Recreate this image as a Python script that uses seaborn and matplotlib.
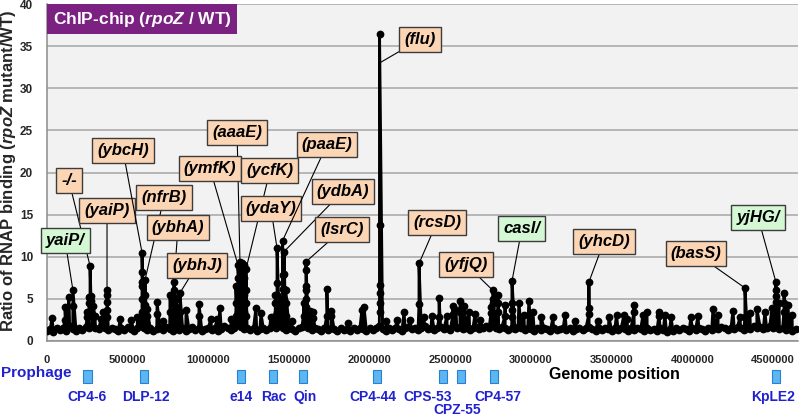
import numpy as np
import pandas as pd
import matplotlib
matplotlib.use("Agg")
import matplotlib.pyplot as plt
import seaborn as sns
from matplotlib.patches import Rectangle
from matplotlib.transforms import blended_transform_factory

# ---------------- data ----------------
genome_length = 4640000
# background probe ratios (evenly spaced probes along the genome)
baseline_ratio = [
    1.2, 1.4, 1.1, 1.6, 1.3, 1.5, 1.2, 1.8, 1.4, 1.2, 1.6, 1.3, 1.7, 1.5, 1.9, 1.6, 1.4, 1.8, 1.5, 1.3,
    1.6, 1.4, 1.2, 1.5, 1.3, 1.7, 1.4, 1.2, 1.5, 1.8, 1.6, 1.3, 1.5, 1.2, 1.4, 1.6, 1.3, 1.7, 1.4, 1.2,
    1.5, 1.3, 1.6, 1.2, 1.4, 1.7, 1.3, 1.5, 1.2, 1.4, 1.6, 1.3, 1.5, 1.2, 1.4, 1.8, 1.5, 1.3, 1.6, 1.9,
    1.7, 1.4, 1.6, 1.3, 1.5, 1.2, 1.4, 1.6, 1.3, 1.5, 1.8, 1.6, 1.9, 1.5, 1.3, 1.6, 1.4, 1.2, 1.5, 1.7,
    1.8, 1.5, 1.3, 1.6, 1.4, 1.2, 1.5, 1.3, 1.6, 1.4, 1.2, 1.5, 1.3, 1.4, 1.2, 1.5, 1.3, 1.6, 1.4, 1.2,
    1.5, 1.3, 1.6, 1.8, 1.4, 1.2, 1.5, 1.3, 1.6, 1.4, 1.2, 1.5, 1.7, 1.4, 1.6, 1.3, 1.5, 1.8, 1.4, 1.6,
    1.3, 1.5, 1.7, 1.4, 1.6, 1.3, 1.8, 1.5, 1.7, 1.4, 1.6, 1.3, 1.5, 1.7, 1.4, 1.6, 1.8, 1.5, 1.9, 1.6,
    1.4, 1.7, 1.5, 1.3, 1.6, 1.4, 1.7, 1.5, 1.3, 1.6, 1.4, 1.2, 1.5, 1.3, 1.6, 1.4, 1.2, 1.5, 1.3, 1.4,
    1.6, 1.3, 1.5, 1.2, 1.4, 1.6, 1.3, 1.5, 1.7, 1.4, 1.2, 1.5, 1.3, 1.6, 1.4, 1.2, 1.5, 1.3, 1.6, 1.4,
    1.2, 1.5, 1.3, 1.6, 1.4, 1.2, 1.5, 1.3, 1.4, 1.2, 1.5, 1.3, 1.1, 1.4, 1.2, 1.5, 1.3, 1.6, 1.4, 1.2,
    1.5, 1.3, 1.6, 1.4, 1.2, 1.5, 1.3, 1.6, 1.4, 1.7, 1.5, 1.3, 1.6, 1.4, 1.7, 1.5, 1.3, 1.6, 1.4, 1.8,
    1.5, 1.7, 1.4, 1.6, 1.8, 1.5, 1.7, 1.4, 1.6, 1.3, 1.5, 1.2, 1.4,
]

# enriched probes (position in kb, stacked probe ratios at that locus)
peak_pos_kb = [
    31, 112, 136, 161, 250, 260, 267, 275, 285, 298, 335, 350, 372, 455, 520, 560,
    589, 607, 620, 682, 720, 762, 787, 800, 824, 862, 942, 1016, 1055, 1072, 1140,
    1171, 1184, 1196, 1210, 1222, 1233, 1295, 1326, 1388, 1415, 1426, 1440, 1460,
    1469, 1480, 1518, 1590, 1605, 1630, 1649, 1735, 1760, 1866, 1952, 1965, 2061,
    2100, 2169, 2213, 2250, 2306, 2337, 2386, 2430, 2479, 2516, 2535, 2560, 2585,
    2616, 2653, 2684, 2752, 2764, 2795, 2839, 2882, 2925, 2956, 2987, 3012, 3062,
    3136, 3211, 3273, 3359, 3415, 3483, 3530, 3576, 3595, 3638, 3694, 3719, 3793,
    3830, 3868, 3991, 4035, 4128, 4159, 4252, 4295, 4326, 4357, 4400, 4450, 4494,
    4518, 4537, 4568, 4593, 4618,
]
peak_ratio = [
    [2.7], [2.5, 4.0], [5.2], [4.2, 6.0], [2.8, 3.5], [3.0, 4.5, 5.2], [3.6, 5.0, 8.9],
    [3.2, 4.8, 5.4], [2.8, 4.2], [3.0], [2.6], [3.4], [2.9, 3.7, 4.6, 5.5, 6.0], [2.6],
    [2.5], [2.8],
    [3.5, 5.0, 6.5, 7.0, 8.2, 10.5], [3.0, 4.3, 5.5, 7.2], [3.0, 3.8], [3.2, 4.6], [2.4],
    [3.5, 5.5], [3.5, 4.5, 5.2, 6.0, 7.0], [3.0, 4.0, 5.0], [3.5, 5.7], [3.7], [3.0, 4.4],
    [2.6], [2.6], [3.9], [2.6],
    [3.0, 4.5, 6.5], [3.5, 5.0, 6.5, 7.5, 9.0], [4.0, 5.5, 7.0, 8.5, 9.4],
    [3.5, 5.0, 6.5, 8.0, 9.2], [3.5, 5.5, 7.5, 9.0], [3.0, 4.5, 6.0, 8.5], [3.9], [3.3],
    [2.9], [3.0, 4.5, 5.5], [2.5, 3.5, 4.5, 5.5, 6.9, 11.0], [3.0, 4.0, 5.0],
    [4.0, 5.0, 6.2, 7.8, 11.9],
    [3.5, 5.0, 6.2, 8.0, 10.6], [3.0, 4.5, 6.0], [2.4], [3.0, 4.5],
    [3.0, 4.0, 5.0, 6.0, 6.5, 8.4, 9.4], [3.6], [2.7, 3.5], [3.0, 6.2], [3.0, 3.6], [2.1],
    [3.7], [4.0], [3.5, 4.5, 5.7, 6.6, 13.8, 36.5],
    [2.4], [2.5], [3.4], [2.5], [4.4, 9.2], [2.9], [3.0], [2.8, 5.1], [3.0], [3.2, 4.1],
    [3.7], [3.5, 4.8], [4.1],
    [3.5], [3.2], [2.5], [3.3, 4.0], [4.5, 5.0, 6.0], [3.5, 4.5, 5.5], [3.0, 4.3],
    [2.8, 3.7, 4.5, 7.1], [4.5], [3.1], [4.8], [3.4], [2.8],
    [2.8], [3.1], [2.4], [3.2, 3.9, 7.0], [2.4], [2.9], [3.1], [3.1], [2.6], [3.4, 4.3],
    [3.1], [3.5], [3.0, 3.5],
    [3.1], [2.8], [2.8], [3.0], [3.8], [3.1], [3.6], [2.8], [2.9, 6.3], [3.3], [3.8],
    [3.5], [3.9],
    [3.9, 4.6, 5.4, 6.0, 7.0], [4.5], [3.5, 4.5, 5.7], [4.3], [3.1],
]

# labelled loci
gene_labels = ["(flu)", "-/-", "(yaiP)", "yaiP/", "(ybcH)", "(nfrB)", "(ybhA)", "(ybhJ)",
               "(aaaE)", "(ymfK)", "(ycfK)", "(ydaY)", "(paaE)", "(ydbA)", "(lsrC)",
               "(rcsD)", "(yfjQ)", "casI/", "(yhcD)", "(basS)", "yjHG/"]
gene_peak_kb = [2061, 267, 372, 161, 589, 607, 787, 824, 1196, 1184, 1233, 1426, 1460, 1469,
                1605, 2306, 2764, 2882, 3359, 4326, 4518]
gene_peak_ratio = [33.0, 8.9, 6.0, 6.0, 10.5, 7.2, 7.0, 5.7, 9.4, 9.0, 8.5, 11.0, 11.9, 10.6,
                   9.4, 9.2, 6.0, 7.1, 7.0, 6.3, 7.0]
gene_group = ["up", "up", "up", "new", "up", "up", "up", "up", "up", "up", "up", "up", "up",
              "up", "up", "up", "up", "new", "up", "up", "new"]

prophage_names = ["CP4-6", "DLP-12", "e14", "Rac", "Qin", "CP4-44", "CPS-53", "CPZ-55",
                  "CP4-57", "KpLE2"]
prophage_kb = [251, 601, 1202, 1401, 1587, 2045, 2454, 2566, 2770, 4518]

x_ticks = [0, 500000, 1000000, 1500000, 2000000, 2500000, 3000000, 3500000, 4000000, 4500000]
y_ticks = [0, 5, 10, 15, 20, 25, 30, 35, 40]

# ---------------- layout (label box centres, kb / ratio) ----------------
label_box_kb = [2312, 136, 372, 112, 471, 725, 812, 930, 1178, 1010, 1382, 1388, 1735, 1835,
                1828, 2417, 2597, 2944, 3452, 4022, 4407]
label_box_y = [35.8, 19.0, 15.5, 11.9, 22.6, 17.0, 13.5, 9.0, 24.8, 20.5, 20.2, 15.7, 23.3,
               17.8, 13.2, 14.1, 9.1, 13.4, 11.8, 10.4, 14.7]
prophage_text_shift_kb = [0, 10, 0, 5, 10, -25, -95, -25, 25, -15]
prophage_text_low = [False, False, False, False, False, False, False, True, False, False]

# ---------------- build table ----------------
base_pos = np.linspace(0, genome_length, len(baseline_ratio))
xs = list(base_pos)
ys = list(baseline_ratio)
for p, vals in zip(peak_pos_kb, peak_ratio):
    for v in vals:
        xs.append(p * 1000.0)
        ys.append(v)
df = pd.DataFrame({"pos": xs, "ratio": ys})
df = df.sort_values("pos", kind="mergesort").reset_index(drop=True)

# ---------------- style ----------------
sns.set_style("white")
plt.rcParams["font.family"] = ["Liberation Sans", "DejaVu Sans"]
plt.rcParams["font.weight"] = "bold"
plt.rcParams["mathtext.fontset"] = "custom"
plt.rcParams["mathtext.it"] = "Liberation Sans:italic:bold"
plt.rcParams["mathtext.rm"] = "Liberation Sans:bold"
plt.rcParams["mathtext.bf"] = "Liberation Sans:bold"

fig = plt.figure(figsize=(8, 4.16), dpi=100)
ax = fig.add_axes([0.05875, 0.1803, 0.93875, 0.81])
ax.set_facecolor("#f2f2f2")

sns.lineplot(data=df, x="pos", y="ratio", estimator=None, sort=False, color="black",
             linewidth=2.1, marker="o", markersize=5.6, markeredgewidth=0, ax=ax, zorder=3)

ax.set_xlim(0, 4655000)
ax.set_ylim(0, 40)
ax.set_yticks(y_ticks)
ax.set_xticks(x_ticks)
ax.set_xticklabels([str(t) for t in x_ticks], fontsize=8, fontweight="bold")
ax.set_yticklabels([str(t) for t in y_ticks], fontsize=8.5, fontweight="bold")
ax.yaxis.grid(True, color="#a6a6a6", linewidth=1.1)
ax.xaxis.grid(False)
ax.set_axisbelow(True)
ax.tick_params(axis="x", length=4, width=1, color="#808080", pad=6)
ax.tick_params(axis="y", length=4, width=1, color="#808080", pad=6)
for s in ["top", "right"]:
    ax.spines[s].set_visible(False)
for s in ["left", "bottom"]:
    ax.spines[s].set_color("#8c8c8c")
    ax.spines[s].set_linewidth(1.1)
ax.set_xlabel("")
ax.set_ylabel("")

# y label
fig.text(9 / 800, 1 - 171 / 416, r"Ratio of RNAP binding ($rpoZ$ mutant/WT)",
         rotation=90, ha="center", va="center", fontsize=12, fontweight="bold")

# title box
fig.patches.append(Rectangle((47 / 800, 1 - 34 / 416), 190 / 800, 30 / 416,
                             transform=fig.transFigure, facecolor="#7b2181",
                             edgecolor="none", zorder=10))
fig.text(142 / 800, 1 - 19.5 / 416, r"ChIP-chip ($rpoZ$ / WT)", color="white",
         ha="center", va="center", fontsize=12.5, fontweight="bold", zorder=11)

# gene annotations
for txt, pk, pr, grp, bx, by in zip(gene_labels, gene_peak_kb, gene_peak_ratio, gene_group,
                                     label_box_kb, label_box_y):
    fc = "#fcd5b5" if grp == "up" else "#d4f7d4"
    ax.annotate(txt, xy=(pk * 1000.0, pr), xytext=(bx * 1000.0, by),
                ha="center", va="center", fontsize=12, fontstyle="italic",
                fontweight="bold", color="black", zorder=6,
                bbox=dict(boxstyle="square,pad=0.3", fc=fc, ec="#3c3c3c", lw=1.0),
                arrowprops=dict(arrowstyle="-", color="black", lw=0.8,
                                shrinkA=0, shrinkB=0))

# prophage track
trans = blended_transform_factory(ax.transData, ax.transAxes)
for name, kb, dx, low in zip(prophage_names, prophage_kb, prophage_text_shift_kb,
                             prophage_text_low):
    ax.add_patch(Rectangle((kb * 1000.0 - 27000, -0.1246), 54000, 0.0385,
                           transform=trans, clip_on=False, facecolor="#5cb6f2",
                           edgecolor="#2a80d0", linewidth=0.8))
    ax.text((kb + dx) * 1000.0, -0.166 - (0.039 if low else 0.0), name, transform=trans,
            ha="center", va="center", fontsize=10, fontweight="bold", color="#2121cf",
            clip_on=False)

fig.text(36 / 800, 1 - 373 / 416, "Prophage", ha="center", va="center",
         fontsize=11, fontweight="bold", color="#2121cf")
fig.text(614 / 800, 1 - 374 / 416, "Genome position", ha="center", va="center",
         fontsize=11.5, fontweight="bold", color="black")

fig.savefig("out.png", dpi=100)
